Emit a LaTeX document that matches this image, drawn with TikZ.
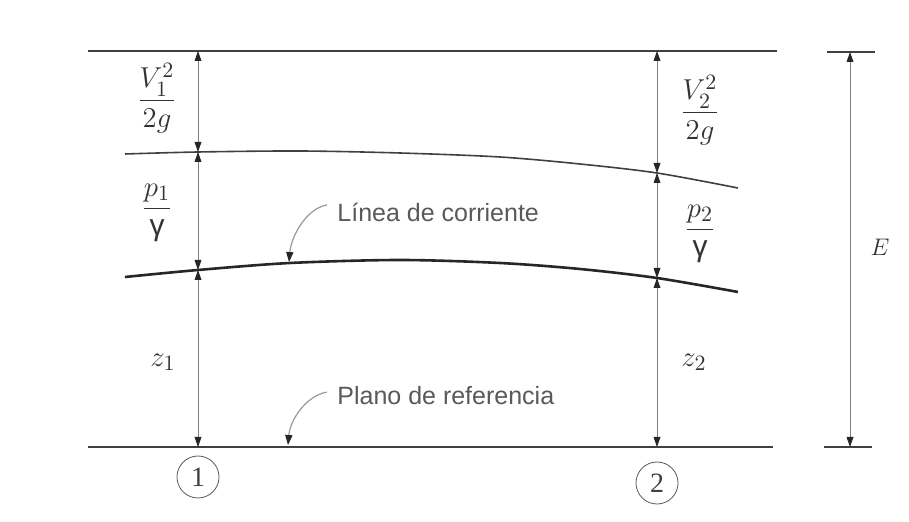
\documentclass[tikz,border=0pt]{standalone}
\usepackage{amsmath}
\usepackage{fontspec}
\setmainfont{Liberation Serif}
\setsansfont{Liberation Sans}
\usetikzlibrary{arrows.meta}

\begin{document}
\begin{tikzpicture}[
  x=0.5pt, y=-0.5pt,
  refline/.style={line width=0.8pt, draw=black!75},
  flowline/.style={line width=1.3pt, draw=black!85},
  dim/.style={{Triangle[length=5pt,width=3.4pt,color=black!85]}-{Triangle[length=5pt,width=3.4pt,color=black!85]}, line width=0.4pt, draw=black!50},
  lead/.style={-{Triangle[length=5pt,width=3.6pt,color=black!85]}, line width=0.6pt, draw=black!40},
  lab/.style={font=\sffamily\fontsize{12.5}{14}\selectfont, text=black!65, inner sep=0pt},
  sym/.style={font=\fontsize{15}{17}\selectfont, text=black!80, inner sep=0pt},
  sec/.style={draw=black!65, circle, minimum size=21pt, inner sep=0pt, text=black!75, font=\fontsize{14}{16}\selectfont}
]
\useasboundingbox (0,0) rectangle (909,522);

% reference lines
\coordinate (topL) at (88,51);
\coordinate (topR) at (777,51);
\coordinate (datL) at (88,447);
\coordinate (datR) at (773,447);
\coordinate (eTopL) at (827,52);
\coordinate (eTopR) at (875,52);
\coordinate (eBotL) at (824,447);
\coordinate (eBotR) at (872,447);
\draw[refline] (topL) -- (topR);
\draw[refline] (datL) -- (datR);
\draw[refline] (eTopL) -- (eTopR);
\draw[refline] (eBotL) -- (eBotR);

% energy line and streamline
\draw[refline] plot[smooth] coordinates {(125,154) (198,152) (300,151) (400,153) (500,157) (580,164) (657,173) (738,188)};
\draw[flowline] plot[smooth] coordinates {(125,277) (198,270) (290,263) (400,260) (500,263) (580,269) (657,278) (738,292)};

% section 1
\coordinate (t1) at (198,51);
\coordinate (e1) at (198,152);
\coordinate (s1) at (198,270);
\coordinate (d1) at (198,447);
\draw[dim] (t1) -- (e1);
\draw[dim] (e1) -- (s1);
\draw[dim] (s1) -- (d1);

% section 2
\coordinate (t2) at (657,51);
\coordinate (e2) at (657,173);
\coordinate (s2) at (657,278);
\coordinate (d2) at (657,447);
\draw[dim] (t2) -- (e2);
\draw[dim] (e2) -- (s2);
\draw[dim] (s2) -- (d2);

% total head
\coordinate (eTop) at (850,52);
\coordinate (eBot) at (850,447);
\draw[dim] (eTop) -- (eBot);

% symbols
\node[sym] (v1) at (157,98) {$\dfrac{V_1^2}{2g}$};
\node[sym] (p1) at (157,213) {$\dfrac{p_1}{\text{\sffamily γ}}$};
\node[sym] (z1) at (163,362) {$z_1$};
\node[sym] (v2) at (700,110) {$\dfrac{V_2^2}{2g}$};
\node[sym] (p2) at (700,234) {$\dfrac{p_2}{\text{\sffamily γ}}$};
\node[sym] (z2) at (694,362) {$z_2$};
\node[sym, font=\fontsize{13}{15}\selectfont] (en) at (880,247) {$E$};

% labels
\node[lab, anchor=base west] (lc) at (337,222) {Línea de corriente};
\node[lab, anchor=base west] (pr) at (337,405) {Plano de referencia};
\coordinate (lcTip) at (289,262);
\coordinate (prTip) at (288,445);
\draw[lead] ([xshift=-5pt,yshift=4pt]lc.west) .. controls +(-22,4) and +(2,-24) .. (lcTip);
\draw[lead] ([xshift=-5pt,yshift=2pt]pr.west) .. controls +(-22,4) and +(2,-24) .. (prTip);

% section marks
\node[sec] (n1) at (198,477) {1};
\node[sec] (n2) at (657,483) {2};
\end{tikzpicture}
\end{document}
